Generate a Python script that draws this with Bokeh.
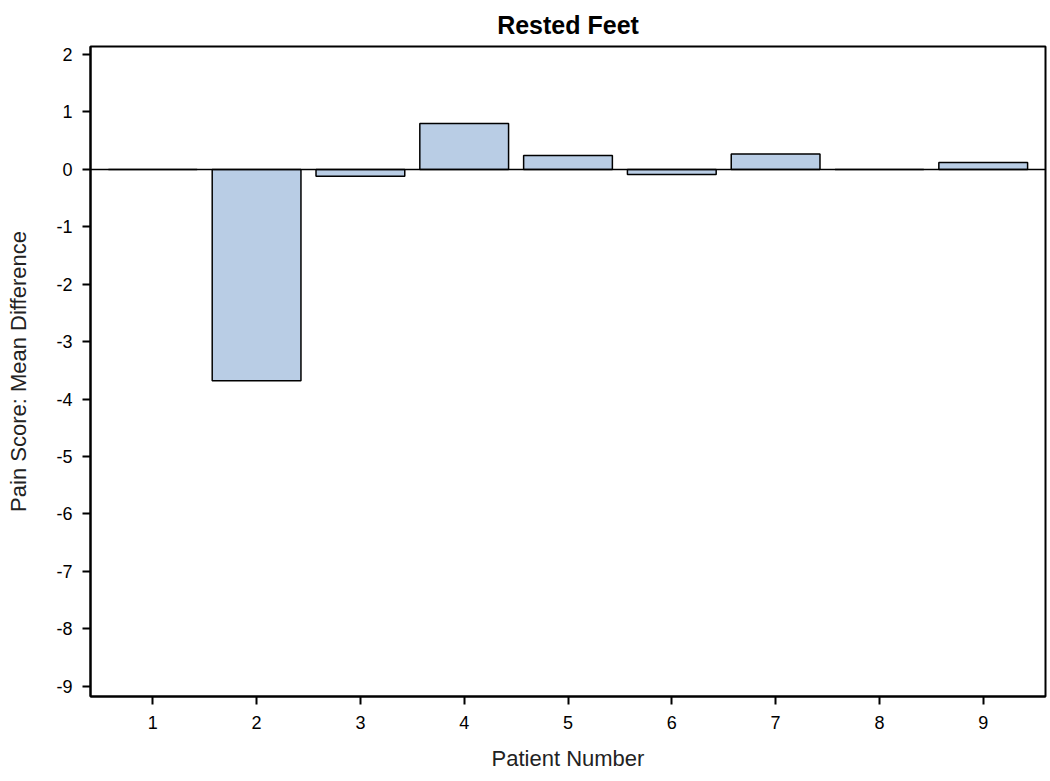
from bokeh.plotting import figure
from bokeh.models import ColumnDataSource, Span, FixedTicker, Range1d, CustomJSTickFormatter
from bokeh.embed import file_html
from bokeh.resources import INLINE

patients = [1, 2, 3, 4, 5, 6, 7, 8, 9]
mean_diff = [0.0, -3.68, -0.12, 0.80, 0.24, -0.09, 0.27, 0.0, 0.12]
y_ticks = [-9, -8, -7, -6, -5, -4, -3, -2, -1, 0, 1, 2]

FONT = "Liberation Sans"

p = figure(width=1048, height=775, output_backend="svg", toolbar_location=None,
           x_range=Range1d(0.4, 9.6), y_range=Range1d(-9.18, 2.14),
           title="Rested Feet", min_border_left=90, min_border_right=3,
           min_border_top=46, min_border_bottom=79)

src = ColumnDataSource(dict(x=patients, top=mean_diff))
p.vbar(x="x", top="top", bottom=0, width=0.855, source=src,
       fill_color="#B9CDE5", line_color="black", line_width=1.5)

p.add_layout(Span(location=0, dimension="width", line_color="black", line_width=1.5))

p.title.align = "center"
p.title.vertical_align = "top"
p.title.text_font = FONT
p.title.text_font_size = "25px"
p.title.text_font_style = "bold"
p.title.text_color = "black"
p.title.standoff = 12

p.xgrid.visible = False
p.ygrid.visible = False
p.outline_line_color = "black"
p.outline_line_width = 2

fmt = CustomJSTickFormatter(code="return String(tick);")
for ax in (p.xaxis[0], p.yaxis[0]):
    ax.axis_line_width = 2
    ax.axis_line_color = "black"
    ax.major_tick_line_color = "black"
    ax.major_tick_line_width = 2
    ax.major_tick_out = 8
    ax.major_tick_in = 0
    ax.minor_tick_line_color = None
    ax.major_label_text_font = FONT
    ax.major_label_text_font_size = "18px"
    ax.major_label_text_color = "black"
    ax.axis_label_text_font = FONT
    ax.axis_label_text_font_size = "22px"
    ax.axis_label_text_font_style = "normal"
    ax.axis_label_text_color = "#222222"
    ax.formatter = fmt

p.xaxis.ticker = FixedTicker(ticks=patients)
p.yaxis.ticker = FixedTicker(ticks=y_ticks)
p.xaxis.axis_label = "Patient Number"
p.yaxis.axis_label = "Pain Score: Mean Difference"
p.xaxis.major_label_standoff = 11
p.yaxis.major_label_standoff = 10
p.xaxis.axis_label_standoff = 14
p.yaxis.axis_label_standoff = 22

open("out.html", "w").write(file_html(p, INLINE))
